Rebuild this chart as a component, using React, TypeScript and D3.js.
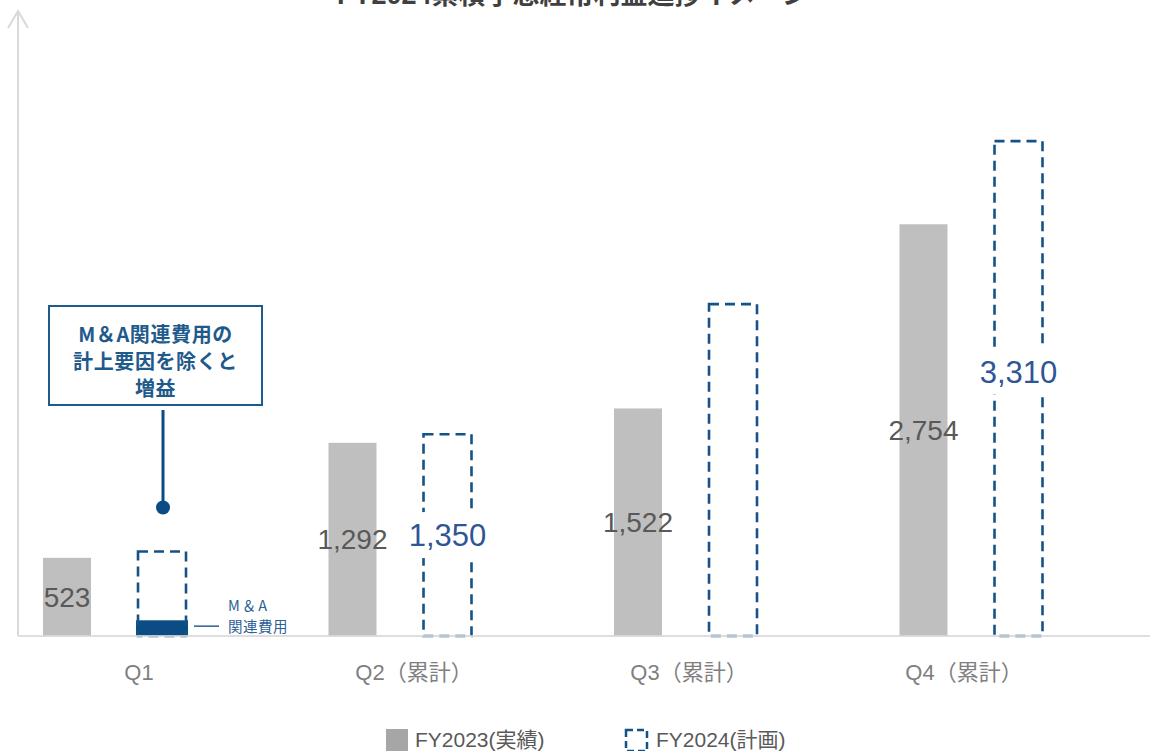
import React from 'react';
import * as d3 from 'd3';

const title = 'FY2024累積予想経常利益進捗イメージ';
const categories = ['Q1', 'Q2（累計）', 'Q3（累計）', 'Q4（累計）'];
const seriesNames = ['FY2023(実績)', 'FY2024(計画)'];
const fy2023 = [523, 1292, 1522, 2754];
const fy2024 = [565, 1350, 2220, 3310];
const fy2024Labelled = [false, true, false, true];
const maCost = [105, 0, 0, 0];
const calloutLines = ['M＆A関連費用の', '計上要因を除くと', '増益'];
const maLabelLines = ['M＆A', '関連費用'];

const W = 1150;
const H = 751;
const LATIN = "'Liberation Sans', Arial, 'Noto Sans CJK JP', sans-serif";
const CJK = "'Noto Sans CJK JP', 'Liberation Sans', sans-serif";
const GRAY = '#bfbfbf';
const DASH_BLUE = '#14528a';
const DARK_BLUE = '#0b4c84';
const AXIS = '#d9d9d9';

const fmt = d3.format(',');

export default function App() {
  const baseY = 636;
  const y = d3.scaleLinear().domain([0, 4000]).range([baseY, baseY - 598]);
  const x = d3.scaleBand<string>().domain(categories).range([43, 43 + 4 * 285.5]).paddingInner(0).paddingOuter(0);
  const inner = d3.scaleBand<string>().domain(seriesNames).range([0, 143]).paddingInner(0.495);
  const bw = inner.bandwidth();
  const labelX = d3.scalePoint<string>().domain(categories).range([139, 964]);

  const q1x = (x(categories[0]) as number) + (inner(seriesNames[1]) as number);
  const lineX = q1x + bw / 2 + 1;
  const dotY = y(fy2024[0]) - 44;
  const boxLeft = lineX - 114;
  const boxTop = 306;
  const boxW = 213;
  const boxH = 99;
  const maTop = y(maCost[0]);
  const maMid = (maTop + baseY) / 2 - 2;

  return (
    <svg width={W} height={H} style={{ position: 'absolute', left: 0, top: 0, background: '#fff' }}>
      <text x={573} y={4} textAnchor="middle" fontFamily={LATIN} fontWeight="bold" fontSize={27} fill="#404040">
        {title}
      </text>

      {/* gray bars */}
      {categories.map((c, i) => {
        const bx = (x(c) as number) + (inner(seriesNames[0]) as number);
        return (
          <rect key={'g' + c} x={bx} y={y(fy2023[i])} width={bw} height={baseY - y(fy2023[i])} fill={GRAY} />
        );
      })}

      {/* M&A cost bar */}
      {categories.map((c, i) =>
        maCost[i] > 0 ? (
          <rect key={'ma' + c} x={(x(c) as number) + (inner(seriesNames[1]) as number) - 2} y={y(maCost[i])}
            width={bw + 4} height={baseY - y(maCost[i])} fill={DARK_BLUE} />
        ) : null
      )}

      {/* dashed bars */}
      {categories.map((c, i) => {
        const bx = (x(c) as number) + (inner(seriesNames[1]) as number);
        return (
          <rect key={'d' + c} x={bx} y={y(fy2024[i])} width={bw} height={baseY - y(fy2024[i])}
            fill="none" stroke={DASH_BLUE} strokeWidth={2.6} strokeDasharray="10 6" />
        );
      })}

      {/* axes */}
      <line x1={18} x2={W} y1={baseY} y2={baseY} stroke={AXIS} strokeWidth={2} opacity={0.85} />
      <line x1={18} x2={18} y1={baseY} y2={11} stroke={AXIS} strokeWidth={2} />
      <polyline points="8,28 18,11 28,28" fill="none" stroke={AXIS} strokeWidth={2} />

      {/* gray labels */}
      {categories.map((c, i) => {
        const cx = (x(c) as number) + (inner(seriesNames[0]) as number) + bw / 2;
        const cy = (y(fy2023[i]) + baseY) / 2;
        return (
          <text key={'l1' + c} x={cx} y={cy + 10} textAnchor="middle" fontFamily={LATIN} fontSize={28} fill="#595959">
            {fmt(fy2023[i])}
          </text>
        );
      })}

      {/* blue labels */}
      {categories.map((c, i) => {
        if (!fy2024Labelled[i]) return null;
        const cx = (x(c) as number) + (inner(seriesNames[1]) as number) + bw / 2;
        const cy = (y(fy2024[i]) + baseY) / 2 - (i === 3 ? 17 : 0);
        return (
          <g key={'l2' + c}>
            <rect x={cx - 44} y={cy - 23} width={88} height={46} fill="#fff" />
            <text x={cx} y={cy + 11} textAnchor="middle" fontFamily={LATIN} fontSize={31} fill="#2f5597">
              {fmt(fy2024[i])}
            </text>
          </g>
        );
      })}

      {/* category labels */}
      {categories.map((c) => (
        <text key={'c' + c} x={labelX(c)} y={680} textAnchor="middle" fontFamily={LATIN} fontSize={22} fill="#7f7f7f">
          {c}
        </text>
      ))}

      {/* callout */}
      <rect x={boxLeft} y={boxTop} width={boxW} height={boxH} fill="#fff" stroke="#1f5a8c" strokeWidth={2} />
      {calloutLines.map((t, i) => (
        <text key={'co' + i} x={boxLeft + boxW / 2} y={boxTop + 36 + i * 27} textAnchor="middle"
          fontFamily={CJK} fontWeight="bold" fontSize={20} letterSpacing={0.6} fill="#1f5a8c">
          {t}
        </text>
      ))}
      <line x1={lineX} x2={lineX} y1={boxTop + boxH + 5} y2={dotY} stroke={DARK_BLUE} strokeWidth={3} />
      <circle cx={lineX} cy={dotY} r={7} fill={DARK_BLUE} />

      {/* M&A annotation */}
      <line x1={q1x + bw + 8} x2={q1x + bw + 33} y1={maMid} y2={maMid} stroke="#2c6095" strokeWidth={1.5} />
      {maLabelLines.map((t, i) => (
        <text key={'mal' + i} x={q1x + bw + 42} y={611 + i * 21} fontFamily={CJK} fontSize={14.5} fill="#2c6095"
          letterSpacing={i === 0 ? 2 : 0.5}>
          {t}
        </text>
      ))}

      {/* legend */}
      <rect x={386} y={729} width={22} height={22} fill="#a6a6a6" />
      <text x={415} y={747} fontFamily={LATIN} fontSize={21} fill="#595959">{seriesNames[0]}</text>
      <rect x={626} y={730} width={21} height={21} fill="none" stroke={DASH_BLUE} strokeWidth={2.5} strokeDasharray="7 4" />
      <text x={656} y={747} fontFamily={LATIN} fontSize={21} fill="#595959">{seriesNames[1]}</text>
    </svg>
  );
}
